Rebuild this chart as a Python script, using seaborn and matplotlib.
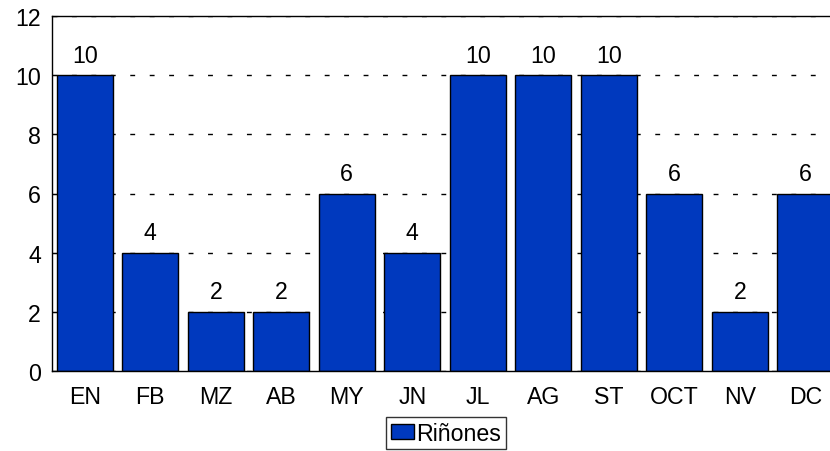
import matplotlib
matplotlib.use("Agg")
import matplotlib.pyplot as plt
import seaborn as sns
import pandas as pd

months = ["EN", "FB", "MZ", "AB", "MY", "JN", "JL", "AG", "ST", "OCT", "NV", "DC"]
values = [10, 4, 2, 2, 6, 4, 10, 10, 10, 6, 2, 6]
series_name = "Riñones"
yticks = [0, 2, 4, 6, 8, 10, 12]

sns.set_style("white")
plt.rcParams["font.family"] = ["Liberation Sans", "DejaVu Sans"]
plt.rcParams["text.color"] = "black"
plt.rcParams["xtick.color"] = "black"
plt.rcParams["ytick.color"] = "black"
plt.rcParams["axes.labelcolor"] = "black"

W, H = 830, 452
fig = plt.figure(figsize=(W / 100, H / 100), dpi=100)
ax = fig.add_axes([52 / W, (H - 372) / H, (838 - 52) / W, (372 - 17) / H])

df = pd.DataFrame({"mes": months, "valor": values})
sns.barplot(data=df, x="mes", y="valor", color="#0039BE", saturation=1,
            edgecolor="black", linewidth=1.0, width=0.86, label=series_name, ax=ax)

ax.set_ylim(0, 12)
ax.set_xlim(-0.5, len(months) - 0.5)
ax.set_yticks(yticks)
ax.set_xlabel("")
ax.set_ylabel("")
ax.yaxis.grid(True, color="black", linestyle=(0, (3.5, 10.5)), linewidth=1.0)
ax.set_axisbelow(True)
for s in ax.spines.values():
    s.set_color("black")
    s.set_linewidth(1.0)

fs = 16.7
ax.tick_params(axis="y", direction="in", length=4, width=0.8, pad=8, labelsize=fs, left=True,
               colors="black")
ax.tick_params(axis="x", length=0, pad=10, labelsize=fs, colors="black")

for c in ax.containers:
    ax.bar_label(c, labels=[str(v) for v in values], padding=6, fontsize=fs, color="black")

leg = ax.legend(loc="upper center", bbox_to_anchor=(446 / W, (H - 418) / H),
                bbox_transform=fig.transFigure, frameon=True, fancybox=False,
                fontsize=fs, handlelength=1.0, handleheight=0.6, handletextpad=0.1,
                borderpad=0.2, borderaxespad=0)
leg.get_frame().set_edgecolor("black")
leg.get_frame().set_linewidth(1.0)
for t in leg.get_texts():
    t.set_color("black")

fig.savefig("out.png", dpi=100)
